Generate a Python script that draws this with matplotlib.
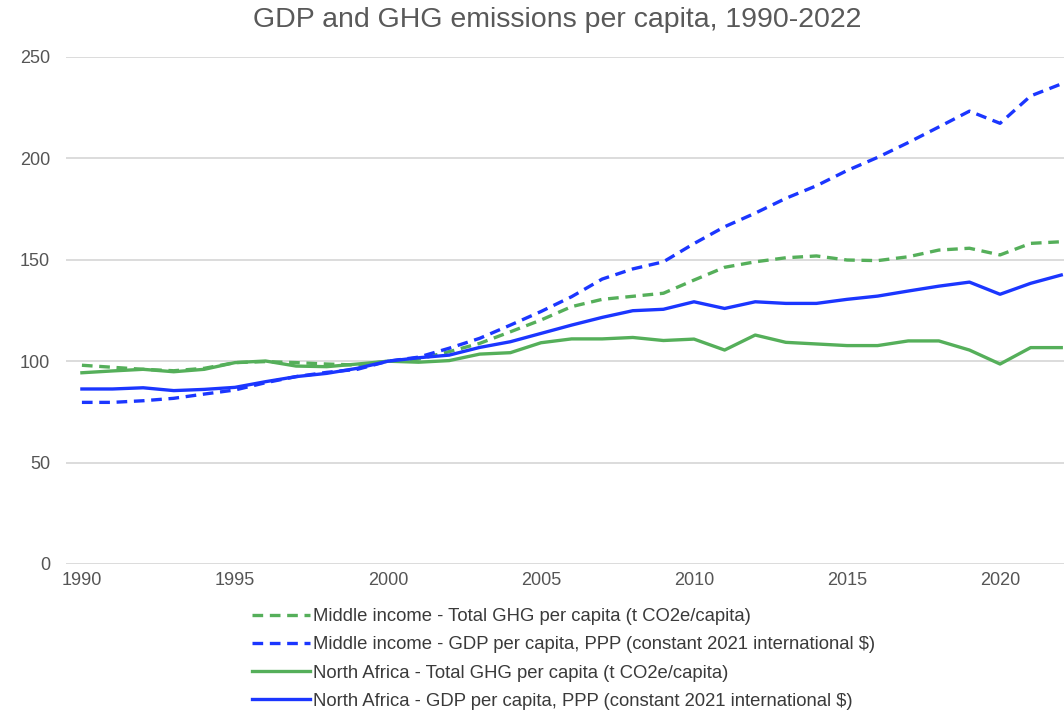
import matplotlib
matplotlib.use("Agg")
import matplotlib.pyplot as plt

years = list(range(1990, 2023))

mi_ghg = [98.0, 97.0, 96.0, 95.3, 96.5, 99.3, 99.8, 99.3, 98.6, 98.1, 100.0,
          101.0, 104.7, 108.8, 114.5, 120.3, 126.9, 130.5, 132.0, 133.5, 140.0,
          146.3, 149.0, 151.0, 151.9, 149.9, 149.6, 151.5, 154.8, 155.7, 152.4,
          158.1, 158.9]

mi_gdp = [79.7, 79.7, 80.5, 81.7, 83.8, 85.8, 89.4, 92.4, 94.5, 96.0, 100.0,
          102.0, 106.4, 111.3, 117.8, 124.5, 131.8, 140.5, 145.5, 149.0, 158.0,
          166.3, 173.0, 180.3, 186.5, 194.0, 200.5, 207.8, 215.5, 223.3, 217.3,
          230.8, 236.7]

na_ghg = [94.3, 95.2, 96.0, 94.8, 96.0, 99.3, 100.1, 97.6, 97.3, 98.6, 100.0,
          99.5, 100.3, 103.5, 104.2, 109.1, 111.0, 111.0, 111.7, 110.2, 110.9,
          105.5, 112.9, 109.3, 108.5, 107.7, 107.7, 110.0, 110.0, 105.5, 98.6,
          106.7, 106.7]

na_gdp = [86.3, 86.3, 86.9, 85.5, 86.1, 87.1, 89.9, 92.4, 94.0, 96.5, 100.0,
          101.7, 103.0, 106.8, 109.6, 113.7, 117.8, 121.6, 124.9, 125.6, 129.3,
          126.0, 129.3, 128.5, 128.5, 130.5, 132.1, 134.6, 137.0, 139.0, 133.0,
          138.4, 142.5]

labels = [
    "Middle income - Total GHG per capita (t CO2e/capita)",
    "Middle income - GDP per capita, PPP (constant 2021 international $)",
    "North Africa - Total GHG per capita (t CO2e/capita)",
    "North Africa - GDP per capita, PPP (constant 2021 international $)",
]

x_ticks = [1990, 1995, 2000, 2005, 2010, 2015, 2020]
y_ticks = [0, 50, 100, 150, 200, 250]

GREEN = "#55AF5A"
BLUE = "#1B36FF"

plt.rcParams["font.family"] = ["Liberation Sans", "DejaVu Sans"]

fig = plt.figure(figsize=(10.64, 7.12), dpi=100)
ax = fig.add_axes([66 / 1064, 148 / 712, 998 / 1064, 507 / 712])

dash = (0, (3.2, 2.0))
lw = 2.4
l1, = ax.plot(years, mi_ghg, color=GREEN, lw=lw, linestyle=dash, solid_joinstyle="round")
l2, = ax.plot(years, mi_gdp, color=BLUE, lw=lw, linestyle=dash, solid_joinstyle="round")
l3, = ax.plot(years, na_ghg, color=GREEN, lw=lw, solid_joinstyle="round")
l4, = ax.plot(years, na_gdp, color=BLUE, lw=lw, solid_joinstyle="round")

ax.set_xlim(1989.48, 2022.09)
ax.set_ylim(0, 250)
ax.set_xticks(x_ticks)
ax.set_yticks(y_ticks)
ax.grid(axis="y", color="#d9d9d9", lw=1.3)
ax.set_axisbelow(True)
for s in ax.spines.values():
    s.set_visible(False)
ax.tick_params(length=0, labelsize=13, colors="#555555")
ax.tick_params(axis="y", pad=11.5)
ax.tick_params(axis="x", pad=6)

fig.text(557 / 1064, 1 - 20 / 712, "GDP and GHG emissions per capita, 1990-2022",
         ha="center", va="center", fontsize=20.5, color="#595959")

fig.legend([l1, l2, l3, l4], labels, loc="upper left",
           bbox_to_anchor=(245 / 1064, 1 - 601 / 712), frameon=False,
           fontsize=13.3, labelcolor="#3a3a3a", handlelength=3.1,
           handletextpad=0.2, labelspacing=0.6, borderaxespad=0)

fig.savefig("out.png", dpi=100)
